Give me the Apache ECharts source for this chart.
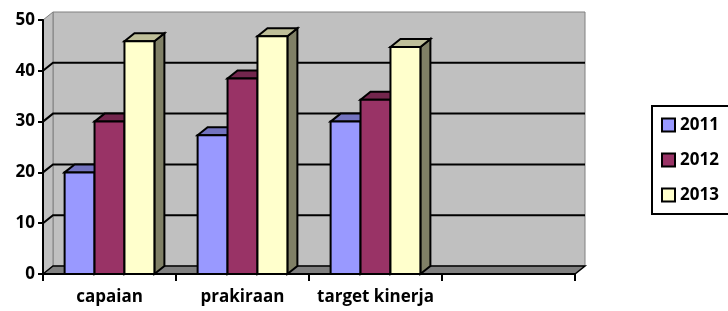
<!DOCTYPE html>
<html>
<head>
    <meta charset="utf-8">
    <title>ECharts</title>
    <script src="https://cdn.jsdelivr.net/npm/echarts@6/dist/echarts.min.js"></script>
</head>
<body style="margin:0;background:#fff">
    <div id="main" style="width:728px;height:311px"></div>
<script>
    // data
    var categories = ['capaian', 'prakiraan', 'target kinerja', ''];
    var years = ['2011', '2012', '2013'];
    var data2011 = [20, 27.3, 30, null];
    var data2012 = [30, 38.5, 34.3, null];
    var data2013 = [45.8, 46.8, 44.7, null];
    var yTicks = [10, 20, 30, 40];

    // excel-like 3d look: front / top / side
    var palette = [
        { front: '#9999FF', top: '#7373BF', side: '#4D4D80' },
        { front: '#993366', top: '#73264D', side: '#4D1A33' },
        { front: '#FFFFCC', top: '#BFBF99', side: '#808066' }
    ];
    var DX = 10, DY = 8;
    var FONT = '"Open Sans", Lato, sans-serif';

    var mychart = echarts.init(document.getElementById('main'));

    function wallRenderer(params, api) {
        var cs = params.coordSys;
        var x0 = cs.x, x1 = cs.x + cs.width;
        var yT = cs.y, yB = cs.y + cs.height;
        var kids = [
            { type: 'rect', shape: { x: x0 + DX, y: yT - DY, width: cs.width, height: cs.height },
              style: { fill: '#C0C0C0', stroke: '#808080', lineWidth: 1 } },
            { type: 'polygon', shape: { points: [[x0, yT], [x0 + DX, yT - DY], [x0 + DX, yB - DY], [x0, yB]] },
              style: { fill: '#C0C0C0', stroke: '#808080', lineWidth: 1 } },
            { type: 'polygon', shape: { points: [[x0, yB], [x0 + DX, yB - DY], [x1 + DX, yB - DY], [x1, yB]] },
              style: { fill: '#808080', stroke: '#000', lineWidth: 1.5 } }
        ];
        yTicks.forEach(function (t) {
            var y = api.coord([0, t])[1];
            kids.push({ type: 'polyline', shape: { points: [[x0, y], [x0 + DX, y - DY], [x1 + DX, y - DY]] },
                        style: { stroke: '#000', lineWidth: 2, fill: null } });
        });
        return { type: 'group', children: kids };
    }

    function barRenderer(k) {
        var col = palette[k];
        return function (params, api) {
            var v = api.value(1);
            if (v == null || isNaN(v)) return;
            var c = api.value(0);
            var p = api.coord([c, v]);
            var base = api.coord([c, 0]);
            var w = api.size([1, 0])[0] * 0.225;
            var x0 = p[0] + (k - 1.5) * w, x1 = x0 + w;
            var yT = p[1], yB = base[1];
            return {
                type: 'group',
                children: [
                    { type: 'polygon', shape: { points: [[x1, yB], [x1 + DX, yB - DY], [x1 + DX, yT - DY], [x1, yT]] },
                      style: { fill: col.side, stroke: '#000', lineWidth: 2 } },
                    { type: 'polygon', shape: { points: [[x0, yT], [x0 + DX, yT - DY], [x1 + DX, yT - DY], [x1, yT]] },
                      style: { fill: col.top, stroke: '#000', lineWidth: 2 } },
                    { type: 'rect', shape: { x: x0, y: yT, width: w, height: yB - yT },
                      style: { fill: col.front, stroke: '#000', lineWidth: 2 } }
                ]
            };
        };
    }

    function barSeries(name, k, values) {
        return {
            name: name,
            type: 'custom',
            z: 3,
            itemStyle: { color: palette[k].front },
            renderItem: barRenderer(k),
            encode: { x: 0, y: 1 },
            data: values.map(function (v, i) { return [i, v == null ? NaN : v]; })
        };
    }

    var option = {
        backgroundColor: '#fff',
        animation: false,
        grid: { left: 43, right: 153, top: 20, bottom: 37 },
        // legend frame runs off the right edge, like the original
        graphic: [{
            type: 'rect',
            x: 652,
            y: 106,
            shape: { width: 120, height: 108 },
            style: { fill: null, stroke: '#000', lineWidth: 2 }
        }],
        legend: {
            data: years,
            orient: 'vertical',
            left: 661,
            top: 115,
            padding: 0,
            itemGap: 15,
            itemWidth: 13,
            itemHeight: 13,
            icon: 'rect',
            itemStyle: { borderColor: '#000', borderWidth: 2 },
            textStyle: { fontFamily: FONT, fontWeight: 'bold', fontSize: 17, color: '#000', lineHeight: 20 }
        },
        xAxis: {
            type: 'category',
            data: categories,
            z: 10,
            axisLine: { lineStyle: { color: '#000', width: 2 } },
            axisTick: { show: true, interval: 0, length: 7, lineStyle: { color: '#000', width: 2 } },
            axisLabel: { interval: 0, margin: 15, fontFamily: FONT, fontWeight: 'bold', fontSize: 17, color: '#000' },
            splitLine: { show: false }
        },
        yAxis: {
            type: 'value',
            min: 0,
            max: 50,
            interval: 10,
            z: 10,
            axisLine: { show: true, lineStyle: { color: '#000', width: 2 } },
            axisTick: { show: true, length: 5, lineStyle: { color: '#000', width: 2 } },
            axisLabel: { margin: 8, fontFamily: FONT, fontWeight: 'bold', fontSize: 17, color: '#000' },
            splitLine: { show: false }
        },
        series: [
            {
                name: 'walls',
                type: 'custom',
                z: 1,
                silent: true,
                renderItem: wallRenderer,
                data: [[0, 0]]
            },
            barSeries('2011', 0, data2011),
            barSeries('2012', 1, data2012),
            barSeries('2013', 2, data2013)
        ]
    };
    mychart.setOption(option);
</script>
</body>
</html>
